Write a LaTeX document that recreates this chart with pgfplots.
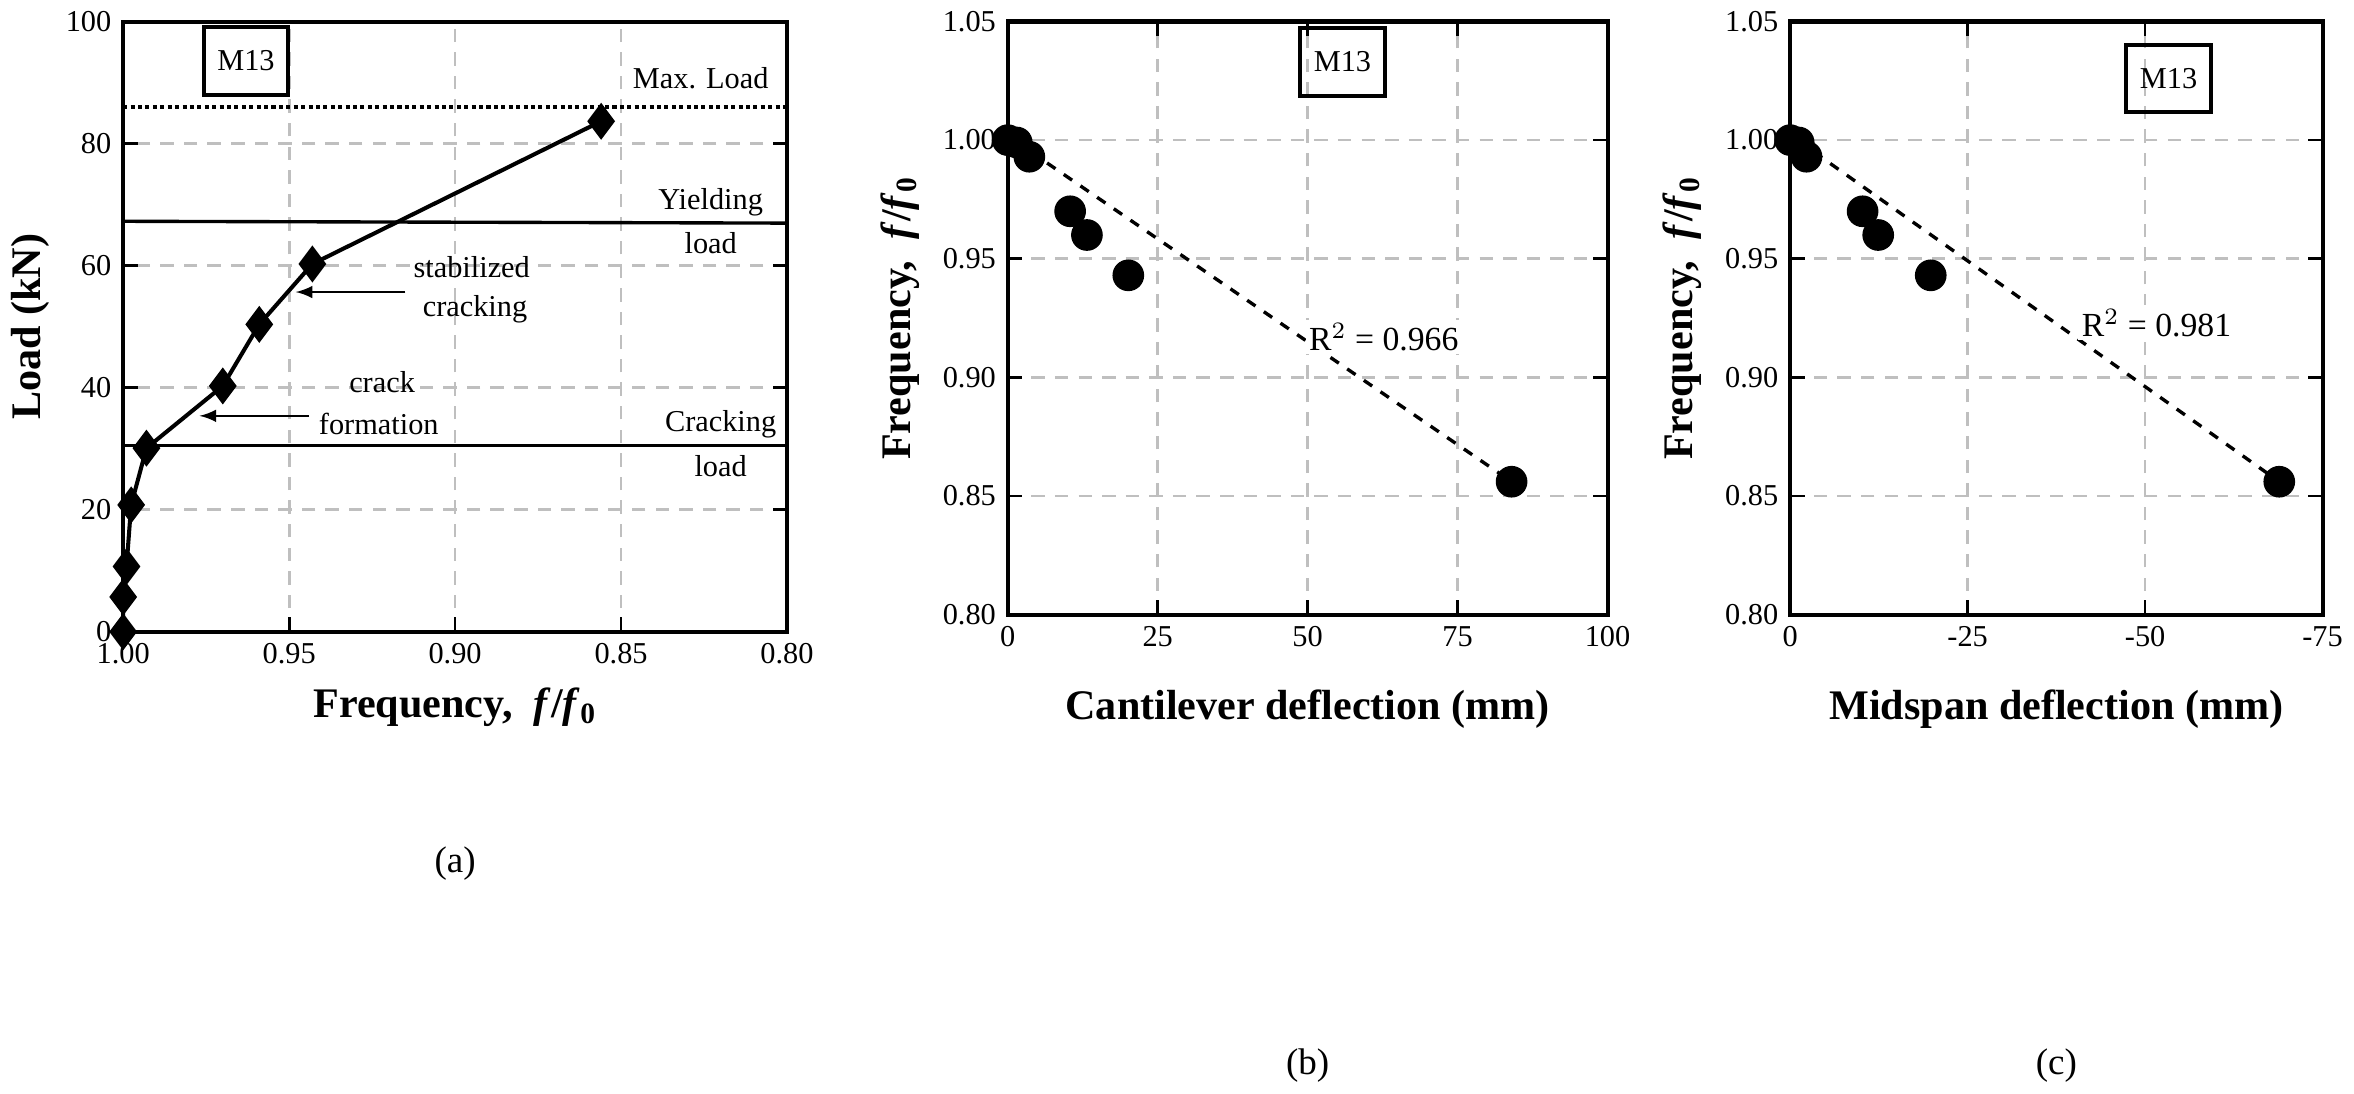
\documentclass[border=0pt]{standalone}
\usepackage{pgfplots}
\pgfplotsset{compat=1.18}
\usepackage{fontspec}
\setmainfont{Liberation Serif}
\tikzset{m13/.style={draw, line width=1.2pt, font=\fontsize{9}{10}\selectfont, inner sep=4pt, minimum height=20pt}}
\pgfplotsset{
  every axis/.append style={scale only axis, axis line style={line width=1.2pt},
    grid=major, major grid style={dashed, gray!50, line width=0.8pt, dash pattern=on 4pt off 3pt},
    tick style={black, line width=0.8pt}, tick align=inside,
    ticklabel style={font=\fontsize{9}{10}\selectfont},
    /pgf/number format/assume math mode=true,
    label style={font=\bfseries\fontsize{12.5}{14}\selectfont},
    clip=false}
}
\begin{document}
\begin{tikzpicture}
% (a)
\begin{axis}[at={(40.5pt,62.4pt)}, anchor=south west, width=197pt, height=181pt,
  x dir=reverse, xmin=0.8, xmax=1.0, ymin=0, ymax=100,
  xtick={0.8,0.85,0.9,0.95,1.0}, ytick={0,20,40,60,80,100},
  xticklabel style={/pgf/number format/.cd, fixed, fixed zerofill, precision=2},
  ytick pos=both, xtick pos=bottom,
  xlabel={Frequency,\ \ \textit{f}/\textit{f}$_{\mathbf 0}$}, ylabel={Load (kN)},
  ylabel style={yshift=-2pt}]
\addplot[black, line width=1.2pt, mark=diamond*, mark size=4.5pt] coordinates {
(1.000,0) (1.000,5.7) (0.999,10.7) (0.9976,20.8) (0.993,30.1) (0.970,40.3) (0.959,50.4) (0.943,60.3) (0.856,83.7)};
\addplot[black, line width=1.2pt, densely dotted] coordinates {(1.0,86) (0.8,86)};
\addplot[black, line width=1.0pt] coordinates {(1.0,67.3) (0.8,67.0)};
\addplot[black, line width=1.0pt] coordinates {(1.0,30.5) (0.8,30.5)};
\node[m13] at (axis cs:0.963,93.6) {M13};
\node[font=\fontsize{9}{10}\selectfont] at (axis cs:0.826,90.7) {Max. Load};
\node[font=\fontsize{9}{10}\selectfont] at (axis cs:0.823,70.4) {Yielding};
\node[font=\fontsize{9}{10}\selectfont] at (axis cs:0.823,63.8) {load};
\node[font=\fontsize{9}{10}\selectfont] at (axis cs:0.895,59.8) {stabilized};
\node[font=\fontsize{9}{10}\selectfont] at (axis cs:0.894,52.8) {cracking};
\node[font=\fontsize{9}{10}\selectfont] at (axis cs:0.922,40.9) {crack};
\node[font=\fontsize{9}{10}\selectfont] at (axis cs:0.923,34.0) {formation};
\node[font=\fontsize{9}{10}\selectfont] at (axis cs:0.820,34.0) {Cracking};
\node[font=\fontsize{9}{10}\selectfont] at (axis cs:0.820,27.1) {load};
\draw[-latex, line width=0.7pt] (axis cs:0.915,55.7) -- (axis cs:0.948,55.7);
\draw[-latex, line width=0.7pt] (axis cs:0.944,35.4) -- (axis cs:0.977,35.4);
\node[font=\fontsize{11}{12}\selectfont] at (axis cs:0.9,-38) {(a)};
\end{axis}
% (b)
\begin{axis}[at={(303pt,67.5pt)}, anchor=south west, width=178pt, height=176pt,
  xmin=0, xmax=100, ymin=0.8, ymax=1.05, xtick={0,25,50,75,100}, ytick={0.8,0.85,0.9,0.95,1.0,1.05},
  yticklabel style={/pgf/number format/.cd, fixed, fixed zerofill, precision=2},
  xlabel={Cantilever deflection (mm)}, ylabel={Frequency,\ \ \textit{f}/\textit{f}$_{\mathbf 0}$},
  xlabel style={yshift=-6pt}]
\addplot[black, only marks, mark=*, mark size=4.5pt] coordinates {
(0,1.0) (1.5,0.999) (3.6,0.993) (10.4,0.970) (13.2,0.960) (20.1,0.943) (84,0.856)};
\addplot[black, dashed, line width=1.0pt] coordinates {(1,1.0) (84,0.856)};
\node[m13] at (axis cs:55.8,1.033) {M13};
\node[fill=white, inner sep=1pt, font=\fontsize{10}{11}\selectfont] at (axis cs:62.7,0.917) {R$^2$ = 0.966};
\node[font=\fontsize{11}{12}\selectfont] at (axis cs:50,0.61) {(b)};
\end{axis}
% (c)
\begin{axis}[at={(535.2pt,67.5pt)}, anchor=south west, width=158pt, height=176pt,
  x dir=reverse, xmin=-75, xmax=0, ymin=0.8, ymax=1.05, xtick={0,-25,-50,-75}, ytick={0.8,0.85,0.9,0.95,1.0,1.05},
  yticklabel style={/pgf/number format/.cd, fixed, fixed zerofill, precision=2},
  xlabel={Midspan deflection (mm)}, ylabel={Frequency,\ \ \textit{f}/\textit{f}$_{\mathbf 0}$},
  xlabel style={yshift=-6pt}]
\addplot[black, only marks, mark=*, mark size=4.5pt] coordinates {
(0,1.0) (-1.2,0.999) (-2.3,0.993) (-10.2,0.970) (-12.4,0.960) (-19.8,0.943) (-68.9,0.856)};
\addplot[black, dashed, line width=1.0pt] coordinates {(-1,1.0) (-68.9,0.856)};
\node[m13] at (axis cs:-53.3,1.026) {M13};
\node[fill=white, inner sep=1pt, font=\fontsize{10}{11}\selectfont] at (axis cs:-51.6,0.923) {R$^2$ = 0.981};
\node[font=\fontsize{11}{12}\selectfont] at (axis cs:-37.5,0.61) {(c)};
\end{axis}
\end{tikzpicture}
\end{document}
